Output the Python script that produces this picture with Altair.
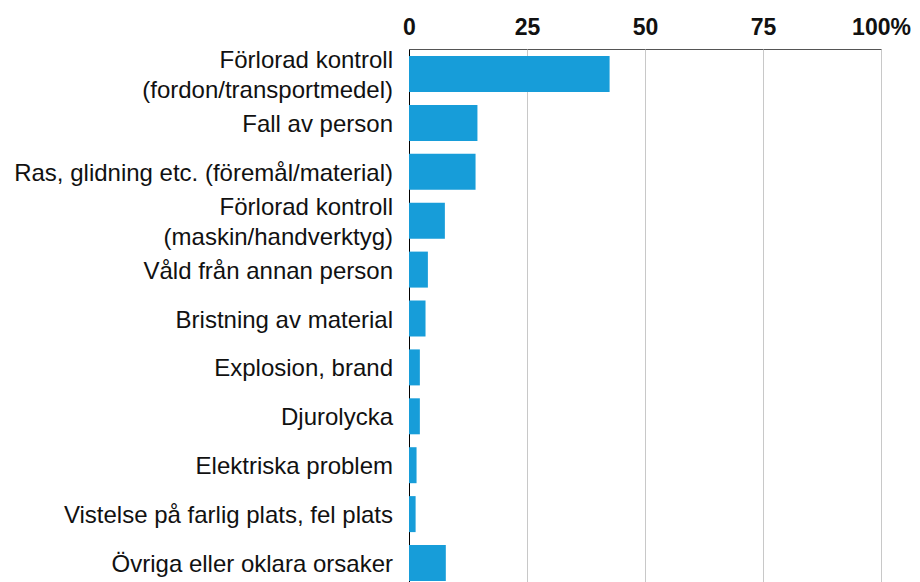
import altair as alt
import pandas as pd

categories = [
    "Förlorad kontroll\n(fordon/transportmedel)",
    "Fall av person",
    "Ras, glidning etc. (föremål/material)",
    "Förlorad kontroll\n(maskin/handverktyg)",
    "Våld från annan person",
    "Bristning av material",
    "Explosion, brand",
    "Djurolycka",
    "Elektriska problem",
    "Vistelse på farlig plats, fel plats",
    "Övriga eller oklara orsaker",
]
values = [42.5, 14.5, 14.1, 7.6, 4.0, 3.5, 2.3, 2.3, 1.6, 1.4, 7.8]
ticks = [0, 25, 50, 75, 100]

df = pd.DataFrame({"orsak": categories, "andel": values})

# label lines: (category, text, line index, number of lines)
rows = []
for c in categories:
    parts = c.split("\n")
    for i, p in enumerate(parts):
        rows.append({"orsak": c, "text": p, "line": i, "n": len(parts)})
labels = pd.DataFrame(rows)

y_enc = alt.Y(
    "orsak:N",
    sort=categories,
    scale=alt.Scale(paddingInner=0.264, paddingOuter=0.143),
    axis=alt.Axis(
        title=None,
        ticks=False,
        labels=False,
        domain=True,
        domainColor="#000000",
        domainWidth=1,
    ),
)

bars = alt.Chart(df).mark_bar(color="#179dd9").encode(
    x=alt.X(
        "andel:Q",
        scale=alt.Scale(domain=[0, 100], nice=False, zero=True),
        axis=alt.Axis(
            orient="top",
            values=ticks,
            title=None,
            ticks=False,
            domain=False,
            grid=True,
            gridColor="#c8c8c8",
            gridWidth=1,
            labelFont="Liberation Sans",
            labelFontSize=23,
            labelFontWeight="bold",
            labelColor="#111111",
            labelPadding=10,
            labelFlush=False,
            labelExpr="datum.value == 100 ? '100%' : datum.label",
        ),
    ),
    y=y_enc,
)


def label_layer(filt, dy):
    return (
        alt.Chart(labels)
        .mark_text(
            align="right",
            baseline="middle",
            font="Liberation Sans",
            fontSize=24,
            color="#111111",
            dy=dy,
        )
        .transform_filter(filt)
        .encode(
            x=alt.value(-16),
            y=alt.Y("orsak:N", sort=categories),
            text="text:N",
        )
    )


single = label_layer("datum.n == 1", 2)
first = label_layer("datum.n == 2 && datum.line == 0", -13)
second = label_layer("datum.n == 2 && datum.line == 1", 17)

chart = (
    alt.layer(bars, single, first, second)
    .properties(
        width=472,
        height=539,
        autosize=alt.AutoSizeParams(type="none"),
        padding={"left": 401, "top": 41, "right": 31, "bottom": 0},
    )
    .configure_view(stroke="#555555", strokeWidth=1)
)

chart.save("out.html", embed_options={"renderer": "svg", "actions": False})
